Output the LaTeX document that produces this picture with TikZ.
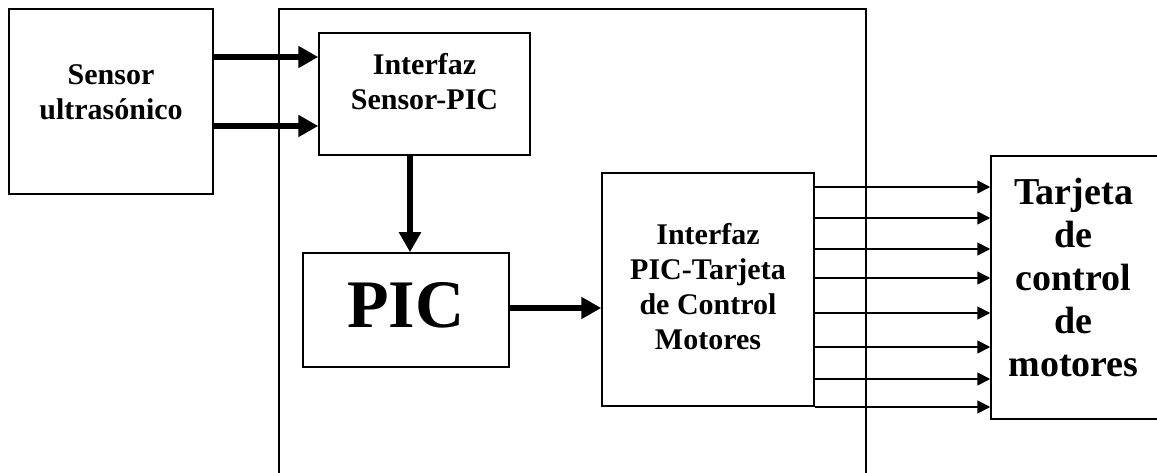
\documentclass[tikz,border=0pt]{standalone}
\usepackage{fontspec}
\setmainfont{Liberation Serif}
\usetikzlibrary{arrows.meta}
\tikzstyle{block} = [draw, line width=1.5pt, inner sep=0pt]
\tikzset{bigarrow/.style={line width=6pt, -{Triangle[length=20pt,width=21pt]}},
    smallarrow/.style={line width=1.8pt, -{Triangle[length=13pt,width=13pt]}},
    txt/.style={font=\bfseries\fontsize{30}{35}\selectfont, align=center}}
\begin{document}
\begin{tikzpicture}[x=1pt,y=-1pt]
    \useasboundingbox (0,0) rectangle (1157,473);
    \clip (0,0) rectangle (1157,473);
    % outer frame (open at the bottom)
    \draw[line width=1.5pt] (279,480) -- (279,9) -- (866,9) -- (866,480);
    % blocks
    \node[block, minimum width=204pt, minimum height=185pt,
        label={[txt, yshift=9pt]center:Sensor\\ultrasónico}] (sensor) at (111,101.5) {};
    \node[block, minimum width=211pt, minimum height=122pt,
        label={[txt, yshift=12pt]center:Interfaz\\Sensor-PIC}] (ifsens) at (424.5,94) {};
    \node[block, minimum width=206pt, minimum height=114pt,
        label={[font=\bfseries\fontsize{68}{70}\selectfont, yshift=5pt]center:PIC}] (pic) at (406,310) {};
    \node[block, minimum width=212pt, minimum height=233pt,
        label={[txt, yshift=3pt]center:Interfaz\\PIC-Tarjeta\\de Control\\Motores}] (ifmot) at (708,289.5) {};
    \node[block, minimum width=190pt, minimum height=263pt,
        label={[font=\bfseries\fontsize{38}{43}\selectfont, align=center, xshift=-12.5pt, yshift=10pt]center:Tarjeta\\de\\control\\de\\motores}] (tarjeta) at (1086,287.5) {};
    % connections
    \foreach \y in {57,126}
        \draw[bigarrow] (sensor.east |- 0,\y) -- (ifsens.west |- 0,\y);
    \draw[bigarrow] (ifsens.south -| 410,0) -- (pic.north -| 410,0);
    \draw[bigarrow] (pic.east |- 0,308) -- (ifmot.west |- 0,308);
    \foreach \y in {187,218,249,278,313,347,379,407}
        \draw[smallarrow] (ifmot.east |- 0,\y) -- (tarjeta.west |- 0,\y);
\end{tikzpicture}
\end{document}
